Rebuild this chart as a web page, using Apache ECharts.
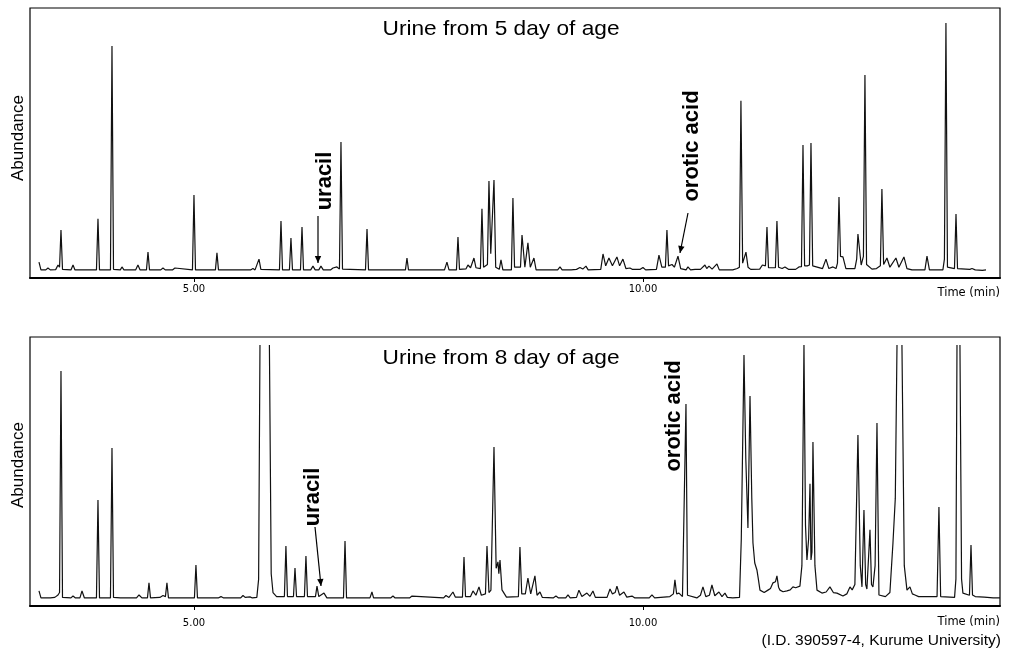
<!DOCTYPE html>
<html><head><meta charset="utf-8">
<script src="https://cdn.jsdelivr.net/npm/echarts@6/dist/echarts.min.js"></script>
<style>html,body{margin:0;padding:0;background:#fff}#c{width:1034px;height:652px}</style>
</head><body><div id="c"></div>
<script>
// ---- data ----
const tickValues = [5, 10];
const tickLabels = ['5.00', '10.00'];
const panelTitles = ['Urine from 5 day of age', 'Urine from 8 day of age'];
const axisName = 'Time (min)';
const yName = 'Abundance';
const credit = '(I.D. 390597-4, Kurume University)';
const annotations = ['uracil', 'orotic acid'];

// [time (min), abundance (% of full scale)]
const day5Trace = [
[3.274,5.9],[3.296,3.0],
[3.35,3.0],[3.374,3.7],[3.40,3.0],
[3.46,3.1],[3.486,4.8],[3.503,4.0],[3.519,17.8],[3.536,3.2],
[3.63,3.0],[3.653,4.8],[3.675,3.0],
[3.914,3.0],[3.931,21.9],[3.948,3.0],
[4.070,3.0],[4.087,85.9],[4.104,3.2],
[4.18,3.0],[4.198,4.1],[4.22,3.0],
[4.35,3.0],[4.376,4.8],[4.40,3.0],
[4.471,3.0],[4.488,9.6],[4.505,3.0],
[4.63,3.0],[4.655,3.7],[4.68,3.0],
[4.76,3.0],[4.788,3.7],[4.81,3.0],
[4.983,3.0],[5.000,30.7],[5.017,3.0],
[5.08,3.0],[5.100,3.5],[5.12,3.0],
[5.239,3.0],[5.256,9.3],[5.273,3.0],
[5.49,3.0],[5.512,3.7],[5.535,3.0],
[5.63,3.0],[5.657,3.5],[5.68,3.0],
[5.70,3.2],[5.724,7.0],[5.745,3.2],
[5.952,3.0],[5.969,21.1],[5.986,3.0],
[6.063,3.0],[6.080,14.8],[6.097,3.0],
[6.186,3.0],[6.203,18.9],[6.220,3.0],
[6.30,3.0],[6.325,4.4],[6.35,3.0],
[6.39,3.0],[6.414,4.4],[6.44,3.0],
[6.52,3.0],[6.548,3.7],[6.57,3.2],[6.592,4.1],[6.620,3.3],[6.637,50.4],[6.654,3.3],
[6.910,3.0],[6.927,18.1],[6.944,3.0],
[7.15,3.0],[7.171,3.7],[7.19,3.0],
[7.355,3.0],[7.372,7.4],[7.389,3.0],
[7.79,3.0],[7.817,5.9],[7.84,3.0],
[7.923,3.0],[7.940,15.2],[7.957,3.2],
[8.03,3.4],[8.051,4.8],[8.08,3.8],[8.118,7.4],[8.14,3.8],
[8.190,3.5],[8.207,25.6],[8.225,4.0],
[8.268,5.0],[8.285,35.9],[8.305,9.0],[8.323,9.0],[8.341,36.3],[8.360,4.0],
[8.40,3.2],[8.419,6.7],[8.44,3.0],
[8.535,3.0],[8.552,29.6],[8.570,4.0],
[8.636,4.0],[8.653,15.9],[8.685,4.0],[8.719,13.0],[8.745,4.0],[8.786,7.4],[8.81,3.0],
[8.92,3.0],[8.942,3.7],[8.96,3.0],
[9.05,3.0],[9.076,4.1],[9.10,3.0],
[9.20,3.0],[9.220,3.7],[9.26,3.2],[9.298,3.9],[9.33,3.3],[9.365,4.4],[9.39,3.0],
[9.53,3.2],[9.555,8.9],[9.585,4.5],[9.621,7.4],[9.66,4.5],[9.710,7.8],[9.74,4.5],[9.777,7.0],[9.81,3.5],[9.855,3.7],[9.88,3.2],
[9.97,3.2],[10.000,3.9],[10.03,3.0],
[10.15,3.2],[10.178,8.5],[10.21,4.0],[10.250,4.0],[10.267,17.8],[10.285,4.5],[10.323,5.0],[10.35,4.0],[10.390,8.1],[10.42,3.5],
[10.48,3.0],[10.501,4.1],[10.53,3.0],
[10.58,3.2],[10.601,3.7],[10.64,3.2],[10.690,4.8],[10.71,3.5],[10.735,4.4],[10.77,3.3],[10.824,5.2],[10.85,3.0],
[11.00,3.0],[11.05,3.5],[11.074,4.0],[11.091,65.6],[11.110,5.5],[11.147,9.6],[11.17,4.0],[11.20,3.2],
[11.30,3.3],[11.33,4.8],[11.364,4.5],[11.381,18.9],[11.398,3.8],
[11.475,3.8],[11.492,21.1],[11.510,4.0],
[11.55,3.5],[11.581,4.1],[11.62,3.2],
[11.70,3.2],[11.737,4.1],[11.765,4.2],[11.782,49.3],[11.800,4.5],[11.830,4.5],[11.854,4.8],[11.871,50.0],[11.890,4.5],
[12.00,3.5],[12.038,7.0],[12.07,3.5],[12.116,4.1],[12.150,3.5],[12.166,5.5],[12.183,30.0],[12.200,8.0],[12.227,7.8],[12.26,3.5],
[12.36,3.5],[12.380,7.0],[12.394,16.3],[12.430,4.8],[12.455,8.0],[12.472,75.2],[12.490,5.0],
[12.55,3.3],[12.60,3.5],
[12.644,4.5],[12.661,33.0],[12.680,5.0],[12.717,7.4],[12.75,4.0],[12.817,7.4],[12.85,4.0],[12.906,7.8],[12.94,3.5],[12.996,3.0],
[13.14,3.0],[13.163,8.1],[13.19,3.0],
[13.340,3.0],[13.357,7.0],[13.374,94.4],[13.391,4.0],
[13.469,3.5],[13.486,23.7],[13.503,3.5],
[13.64,3.2],[13.664,3.5],[13.70,3.0],
[13.78,2.8],[13.820,3.0]
];

// '-' marks the breaks where the detector trace is cut off at full scale
const day8Trace = [
[3.274,5.6],[3.296,3.0],
[3.40,3.0],[3.45,3.2],[3.486,4.1],[3.503,5.0],[3.519,87.4],[3.536,3.2],
[3.63,3.0],[3.653,3.7],[3.68,3.0],
[3.73,3.0],[3.753,5.6],[3.78,3.0],
[3.914,3.0],[3.931,39.4],[3.948,3.0],
[4.070,3.0],[4.087,58.7],[4.104,3.2],
[4.18,3.0],[4.198,3.7],[4.22,3.0],
[4.36,3.0],[4.388,4.1],[4.42,3.0],
[4.482,3.0],[4.499,8.6],[4.516,3.0],
[4.62,3.2],[4.655,3.9],[4.682,3.5],[4.699,8.6],[4.716,3.0],
[4.79,3.0],[4.811,3.7],[4.83,3.0],
[5.005,3.0],[5.022,15.2],[5.039,3.0],
[5.09,3.0],[5.111,3.5],[5.13,3.0],
[5.27,3.0],[5.301,3.5],[5.33,3.0],
[5.52,3.0],[5.546,3.9],[5.57,3.2],[5.624,3.4],[5.65,3.0],
[5.700,3.2],[5.720,10.0],[5.735,97.0],[5.79,'-'],[5.840,97.0],[5.860,12.0],[5.880,5.0],[5.92,3.5],
[6.007,3.5],[6.024,22.3],[6.041,3.5],
[6.108,3.5],[6.125,14.1],[6.142,3.5],
[6.230,3.5],[6.247,18.6],[6.264,3.5],
[6.353,3.5],[6.370,7.4],[6.39,3.5],[6.448,4.8],[6.48,3.0],
[6.665,3.0],[6.682,24.2],[6.699,3.0],
[6.96,3.0],[6.982,5.2],[7.00,3.0],
[7.19,3.0],[7.216,3.7],[7.24,3.0],
[7.40,3.0],[7.428,3.7],[7.45,3.0],
[7.78,3.0],[7.806,3.9],[7.84,3.2],[7.884,5.2],[7.91,3.3],
[7.990,3.3],[8.007,18.2],[8.024,3.5],
[8.08,3.5],[8.107,5.6],[8.14,4.0],[8.174,7.1],[8.20,4.0],
[8.246,4.5],[8.263,22.3],[8.285,5.0],[8.307,5.9],[8.325,6.5],[8.341,59.1],[8.365,14.0],[8.385,16.4],[8.395,12.0],[8.408,17.1],[8.430,6.0],[8.452,5.6],[8.48,3.3],
[8.613,3.5],[8.630,21.9],[8.650,4.5],[8.69,4.5],[8.719,10.4],[8.75,4.5],[8.797,11.2],[8.82,4.0],[8.853,5.2],[8.88,3.2],
[9.00,3.0],[9.031,3.7],[9.06,3.0],
[9.14,3.0],[9.165,4.1],[9.19,3.0],
[9.26,3.2],[9.287,5.9],[9.32,3.5],[9.376,4.8],[9.41,3.6],[9.443,5.6],[9.47,3.2],
[9.60,3.2],[9.633,6.3],[9.66,4.5],[9.690,5.0],[9.710,7.4],[9.74,4.0],[9.788,5.2],[9.82,3.3],[9.878,3.7],[9.91,3.0],
[10.07,3.0],[10.100,4.1],[10.13,3.0],
[10.30,3.5],[10.339,4.5],[10.356,9.7],[10.375,4.5],[10.401,4.8],[10.44,3.5],
[10.462,4.0],[10.479,75.1],[10.496,4.0],
[10.60,3.0],[10.640,4.0],[10.668,7.1],[10.70,3.5],[10.74,4.0],[10.768,7.8],[10.80,3.8],[10.846,5.2],[10.88,3.5],[10.913,4.8],[10.94,3.2],
[11.00,3.0],[11.075,3.2],[11.095,25.0],[11.125,93.3],[11.145,55.0],[11.169,29.0],[11.192,78.1],[11.212,40.0],[11.225,23.4],[11.245,16.0],[11.269,13.4],[11.285,10.0],[11.303,5.9],
[11.35,5.0],[11.392,5.9],[11.420,6.5],[11.448,8.6],[11.475,9.0],[11.492,11.2],[11.510,7.0],[11.526,5.9],[11.560,5.3],[11.604,5.6],[11.640,6.0],[11.670,7.1],[11.700,6.8],[11.748,7.4],
[11.770,15.0],[11.793,97.0],[11.810,30.0],[11.826,17.1],[11.845,25.0],[11.860,45.4],[11.871,17.1],[11.882,20.0],[11.893,61.0],[11.915,15.0],[11.938,5.9],
[11.993,4.8],[12.04,5.2],[12.082,7.1],[12.12,5.0],[12.160,4.8],[12.227,3.7],[12.27,4.5],[12.305,7.1],[12.33,6.0],
[12.36,8.0],[12.394,63.6],[12.420,15.0],[12.439,7.1],[12.461,35.7],[12.480,8.0],[12.494,6.3],[12.528,28.3],[12.545,8.0],[12.561,7.1],[12.585,15.0],[12.606,68.0],[12.628,4.1],
[12.70,3.5],[12.75,5.0],[12.784,23.4],[12.810,40.0],[12.829,97.0],[12.86,'-'],[12.884,97.0],[12.910,15.0],[12.940,5.9],[12.973,7.1],[13.00,4.5],[13.029,4.1],[13.07,3.5],
[13.275,3.5],[13.296,36.8],[13.315,3.5],[13.330,3.0],
[13.47,3.2],[13.485,10.0],[13.497,97.0],[13.515,'-'],[13.530,97.0],[13.548,10.0],[13.563,4.8],
[13.636,4.0],[13.653,22.7],[13.670,4.1],[13.70,3.5],[13.80,3.3],[13.90,3.0],[13.976,3.0]
];

// ---- chart ----
const FONT = '"Liberation Sans", Arial, sans-serif';
const xMin = 3.174, xMax = 13.976;
const grids = [
  {left: 30, top: 8, width: 970, height: 270},
  {left: 30, top: 337, width: 970, height: 269}
];
const labelMargins = [6, 12];

function xAxisFor(gi) {
  return {
    gridIndex: gi, type: 'value', min: xMin, max: xMax,
    axisLine: {show: true, onZero: false, lineStyle: {color: '#000', width: 2}},
    axisTick: {show: true, customValues: tickValues, length: 4, lineStyle: {color: '#000', width: 1}},
    axisLabel: {show: true, customValues: tickValues, margin: labelMargins[gi], fontSize: 10,
      fontFamily: '"DejaVu Sans", sans-serif', color: '#000',
      formatter: v => { const i = tickValues.indexOf(v); return i >= 0 ? tickLabels[i] : v.toFixed(2); }},
    splitLine: {show: false}
  };
}
function yAxisFor(gi) {
  return {gridIndex: gi, type: 'value', min: 0, max: 100, show: false, splitLine: {show: false}};
}
function traceSeries(gi, data) {
  return {
    type: 'line', xAxisIndex: gi, yAxisIndex: gi, data: data,
    showSymbol: false, symbol: 'none', connectNulls: false, clip: true, silent: true,
    lineStyle: {color: '#111', width: 1.2}, animation: false
  };
}

function arrow(x1, y1, x2, y2) {
  const a = Math.atan2(y2 - y1, x2 - x1), L = 7, W = 3.2;
  const bx = x2 - L * Math.cos(a), by = y2 - L * Math.sin(a);
  const px = -Math.sin(a) * W, py = Math.cos(a) * W;
  return [
    {type: 'line', shape: {x1: x1, y1: y1, x2: x2, y2: y2}, style: {stroke: '#000', lineWidth: 1.2}},
    {type: 'polygon', shape: {points: [[x2, y2], [bx + px, by + py], [bx - px, by - py]]}, style: {fill: '#000'}}
  ];
}
function label(text, x, y, font, opts) {
  return Object.assign({type: 'text', x: x, y: y, silent: true,
    style: {text: text, font: font, fill: '#000', align: 'center', verticalAlign: 'middle'}}, opts || {});
}

const boldAnno = 'bold 22px ' + FONT;
const graphics = [
  label(panelTitles[0], 501, 29, '21px ' + FONT, {scaleX: 1.08}),
  label(panelTitles[1], 501, 358, '21px ' + FONT, {scaleX: 1.08}),
  label(yName, 18, 138, '17px ' + FONT, {rotation: Math.PI / 2}),
  label(yName, 18, 465, '17px ' + FONT, {rotation: Math.PI / 2}),
  label(annotations[0], 325, 181, boldAnno, {rotation: Math.PI / 2}),
  label(annotations[1], 692, 146, boldAnno, {rotation: Math.PI / 2}),
  label(annotations[0], 313, 497, boldAnno, {rotation: Math.PI / 2}),
  label(annotations[1], 674, 416, boldAnno, {rotation: Math.PI / 2}),
  {type: 'text', x: 1000, y: 293, silent: true, style: {text: axisName, font: '11.5px "DejaVu Sans", sans-serif', fill: '#000', align: 'right', verticalAlign: 'middle'}},
  {type: 'text', x: 1000, y: 622, silent: true, style: {text: axisName, font: '11.5px "DejaVu Sans", sans-serif', fill: '#000', align: 'right', verticalAlign: 'middle'}},
  {type: 'text', x: 1001, y: 641, silent: true, style: {text: credit, font: '15.5px ' + FONT, fill: '#000', align: 'right', verticalAlign: 'middle'}}
].concat(arrow(318, 216, 318, 263), arrow(688, 213, 680, 253), arrow(315, 527, 321, 586));

const chart = echarts.init(document.getElementById('c'), null, {renderer: 'canvas'});
chart.setOption({
  animation: false,
  backgroundColor: '#fff',
  grid: grids.map(g => Object.assign({show: true, borderColor: '#000', borderWidth: 1.2, backgroundColor: 'transparent'}, g)),
  xAxis: [xAxisFor(0), xAxisFor(1)],
  yAxis: [yAxisFor(0), yAxisFor(1)],
  series: [traceSeries(0, day5Trace), traceSeries(1, day8Trace)],
  graphic: graphics
});
</script>
</body></html>
